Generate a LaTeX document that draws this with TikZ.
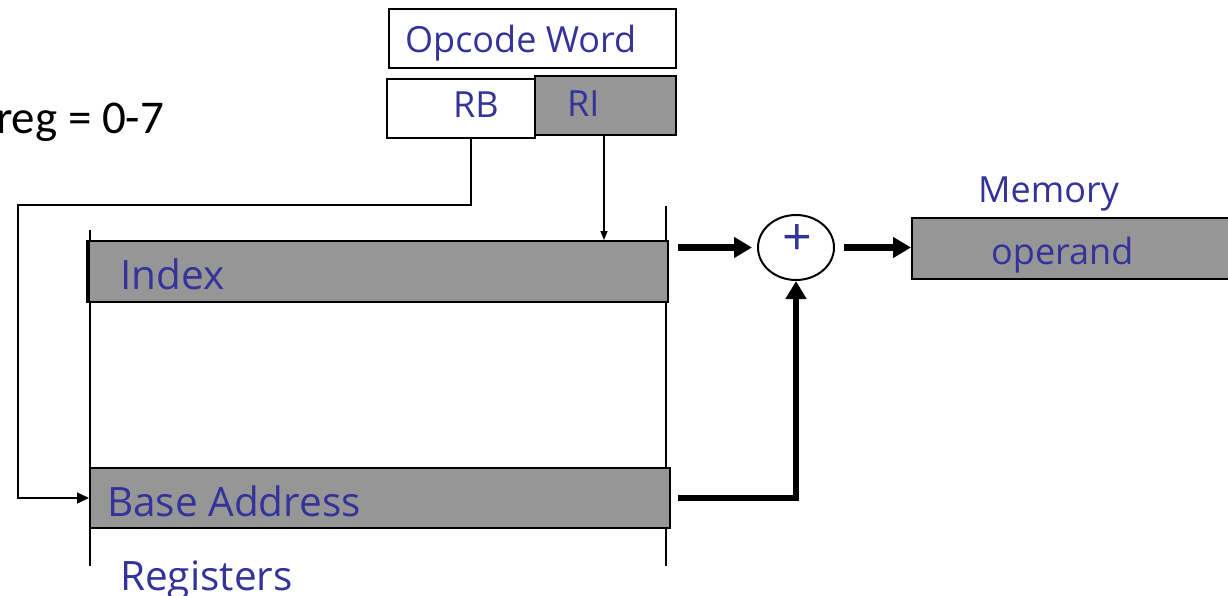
\documentclass[tikz,border=0pt]{standalone}
\usepackage{fontspec}
\setmainfont{Open Sans}
\newfontfamily\calfont{Carlito}
\usetikzlibrary{arrows.meta,shapes.geometric}
\definecolor{labelblue}{RGB}{51,51,153}
\definecolor{regfill}{RGB}{150,150,150}
\tikzset{
  box/.style={draw=black, line width=2pt, rectangle, inner sep=0pt},
  graybox/.style={box, fill=regfill},
  lbl/.style={text=labelblue, inner sep=0pt, anchor=base west},
  biglbl/.style={lbl, font=\fontsize{40.5}{44}\selectfont},
  smalllbl/.style={lbl, font=\fontsize{36}{40}\selectfont},
  thinline/.style={line width=1.5pt},
  bigarrow/.style={line width=6.5pt, -{Triangle[length=18pt,width=20pt]}},
  tap/.style={thinline, -{Triangle[length=12pt,width=11pt]}},
  smalltap/.style={thinline, -{Triangle[length=9pt,width=7pt]}}
}
\begin{document}
\begin{tikzpicture}[x=1pt, y=-1pt]
\useasboundingbox (0,0) rectangle (1228,596);
\clip (0,0) rectangle (1228,596);

% opcode word and its register fields
\node[box, minimum width=287pt, minimum height=59pt] (opcode) at (532,38.5) {};
\node[smalllbl] (opcodetxt) at (405,53) {Opcode Word};
\node[box, minimum width=148pt, minimum height=59pt] (rb) at (461,109) {};
\node[graybox, minimum width=141pt, minimum height=59pt] (ri) at (605.5,106) {};
\node[smalllbl] (rbtxt) at (453,118) {RB};
\node[smalllbl] (ritxt) at (567,117) {RI};

% register file
\coordinate (regtl) at (90,230);
\coordinate (regbl) at (90,566);
\coordinate (regtr) at (666,206);
\coordinate (regbr) at (666,566);
\draw[thinline] (regtl) -- (regbl);
\draw[thinline] (regtr) -- (regbr);
\node[graybox, minimum width=579pt, minimum height=61pt] (index) at (378.5,271.5) {};
\draw[line width=4pt] (index.north west) -- (index.south west);
\node[biglbl] (indextxt) at (120,289) {Index};
\node[graybox, minimum width=580pt, minimum height=60pt] (base) at (380,498) {};
\node[biglbl] (basetxt) at (107,516) {Base Address};
\node[biglbl] (regstxt) at (120,590) {Registers};

% adder
\node[draw, line width=2pt, ellipse, minimum width=76pt, minimum height=65pt, inner sep=0pt] (plus) at (796,247.5) {};
\node[text=labelblue, font=\fontsize{52}{52}\selectfont, inner sep=0pt] (plustxt) at (797,240) {+};

% memory operand
\node[graybox, minimum width=340pt, minimum height=61pt, anchor=west] (mem) at (911,248.5) {};
\node[smalllbl] (memtxt) at (978,203) {Memory};
\node[smalllbl] (optxt) at (991,264) {operand};

% range note
\node[font=\calfont\fontsize{47}{50}\selectfont, inner sep=0pt, anchor=base west] (regnote) at (-4,134) {reg = 0-7};

% field selectors
\coordinate (rbtap) at (471,139);
\coordinate (rbturn) at (18,205);
\coordinate (ritap) at (604,136);
\draw[tap] (rbtap) |- (rbturn) |- (base.west);
\draw[smalltap] (ritap) -- (ritap |- index.north);

% data paths
\draw[bigarrow, shorten <=9pt, shorten >=5pt] (plus.west -| index.east) -- (plus.west);
\draw[bigarrow, shorten <=9pt] (plus.east) -- (plus.east -| mem.west);
\draw[bigarrow, shorten <=7pt] (base.east) -| (plus.south);
\end{tikzpicture}
\end{document}
